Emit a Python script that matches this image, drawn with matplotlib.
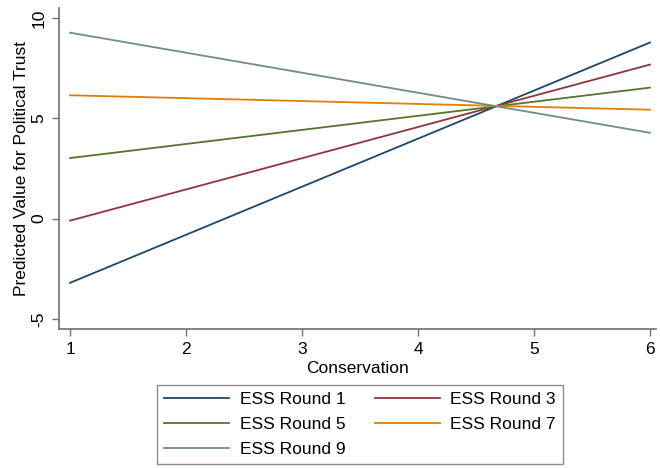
import matplotlib
matplotlib.use("Agg")
import matplotlib.pyplot as plt

conservation = [1, 6]
series_names = ["ESS Round 1", "ESS Round 3", "ESS Round 5", "ESS Round 7", "ESS Round 9"]
round1 = [-3.2, 8.78]
round3 = [-0.1, 7.68]
round5 = [3.02, 6.53]
round7 = [6.15, 5.43]
round9 = [9.27, 4.28]
colors = ["#1a476f", "#90353b", "#55752f", "#e37e00", "#6e8e84"]
yticks = [-5, 0, 5, 10]
xticks = [1, 2, 3, 4, 5, 6]

plt.rcParams['font.family'] = ['Liberation Sans', 'DejaVu Sans']
FS = 12.5

fig = plt.figure(figsize=(6.6, 4.68), dpi=100)
ax = fig.add_axes([59/660, 1-329/468, (656-59)/660, (329-8)/468])

for vals, name, c in zip([round1, round3, round5, round7, round9], series_names, colors):
    ax.plot(conservation, vals, color=c, lw=1.3, label=name)

ax.set_xlim(1 - 11/116, 1 + (656-70)/116)
ax.set_ylim(-5.5, 10.5)
ax.set_xticks(xticks)
ax.set_yticks(yticks)
ax.set_yticklabels([str(t) for t in yticks], rotation=90, va='center')
for s in ['top', 'right']:
    ax.spines[s].set_visible(False)
for s in ['left', 'bottom']:
    ax.spines[s].set_color('#707070')
    ax.spines[s].set_linewidth(1.2)
ax.tick_params(axis='both', direction='out', length=5, width=1.0, color='#707070',
               labelsize=FS, labelcolor='black', pad=4)
ax.set_xlabel("Conservation", fontsize=FS, labelpad=3)
ax.set_ylabel("Predicted Value for Political Trust", fontsize=FS, labelpad=2)

handles, labels = ax.get_legend_handles_labels()
order = [0, 2, 4, 1, 3]  # row-wise fill for 2 columns
leg = fig.legend([handles[i] for i in order], [labels[i] for i in order], ncol=2,
                 loc='lower center', bbox_to_anchor=(360/660, 1/468), fontsize=FS,
                 frameon=True, fancybox=False, edgecolor='#707070', handlelength=3.75,
                 columnspacing=1.7, handletextpad=0.6, borderpad=0.4, labelspacing=0.55,
                 borderaxespad=0.2)
leg.get_frame().set_linewidth(1.0)

fig.savefig("out.png", dpi=100)
